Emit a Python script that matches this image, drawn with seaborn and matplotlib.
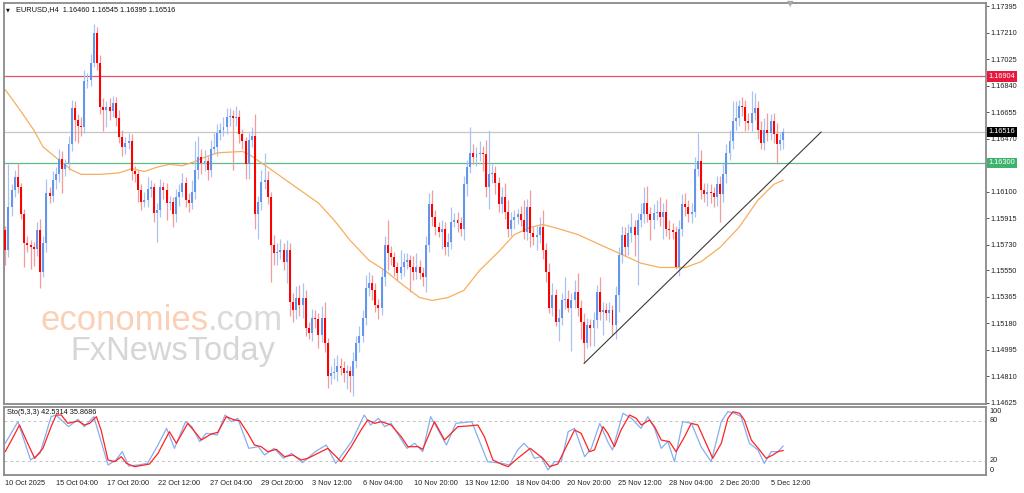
"""
plot.py
-------
EURUSD H4 candlestick chart with a moving average, a rising trendline,
horizontal levels and a Stochastic(5,3,3) panel underneath.
Saves out.png (1024x493).
"""

import numpy as np
import matplotlib
matplotlib.use("Agg")  # no display here
import matplotlib.pyplot as plt
import matplotlib.transforms as mtransforms
import seaborn as sns

# ---------------------------------------------------------------- data
# close of every H4 bar left to right
closes = [
    1.1569, 1.1599, 1.1611, 1.1620, 1.1613, 1.1594, 1.1574, 1.1573, 1.1571, 1.1570,
    1.1583, 1.1554, 1.1574, 1.1609, 1.1607, 1.1618, 1.1622, 1.1633, 1.1626, 1.1629,
    1.1643, 1.1668, 1.1660, 1.1656, 1.1655, 1.1687, 1.1688, 1.1700, 1.1721, 1.1700,
    1.1669, 1.1667, 1.1669, 1.1666, 1.1672, 1.1661, 1.1648, 1.1641, 1.1644, 1.1645,
    1.1624, 1.1622, 1.1611, 1.1603, 1.1604, 1.1612, 1.1613, 1.1595, 1.1597, 1.1613,
    1.1611, 1.1602, 1.1603, 1.1594, 1.1606, 1.1610, 1.1616, 1.1604, 1.1602, 1.1610,
    1.1625, 1.1634, 1.1630, 1.1631, 1.1625, 1.1640, 1.1641, 1.1651, 1.1653, 1.1655,
    1.1662, 1.1663, 1.1661, 1.1662, 1.1650, 1.1645, 1.1629, 1.1646, 1.1649, 1.1594,
    1.1603, 1.1617, 1.1618, 1.1606, 1.1573, 1.1567, 1.1568, 1.1569, 1.1561, 1.1569,
    1.1533, 1.1527, 1.1536, 1.1531, 1.1536, 1.1515, 1.1511, 1.1522, 1.1521, 1.1510,
    1.1522, 1.1504, 1.1481, 1.1483, 1.1484, 1.1488, 1.1487, 1.1483, 1.1485, 1.1481,
    1.1492, 1.1504, 1.1509, 1.1522, 1.1543, 1.1546, 1.1541, 1.1531, 1.1529, 1.1550,
    1.1573, 1.1567, 1.1564, 1.1557, 1.1553, 1.1557, 1.1561, 1.1562, 1.1557, 1.1554,
    1.1557, 1.1553, 1.1550, 1.1573, 1.1601, 1.1592, 1.1585, 1.1582, 1.1584, 1.1571,
    1.1575, 1.1589, 1.1590, 1.1588, 1.1584, 1.1615, 1.1627, 1.1637, 1.1634, 1.1636,
    1.1637, 1.1636, 1.1613, 1.1622, 1.1623, 1.1616, 1.1601, 1.1606, 1.1596, 1.1584,
    1.1590, 1.1592, 1.1594, 1.1590, 1.1582, 1.1599, 1.1581, 1.1578, 1.1580, 1.1585,
    1.1569, 1.1554, 1.1529, 1.1538, 1.1519, 1.1522, 1.1534, 1.1535, 1.1529, 1.1534,
    1.1540, 1.1529, 1.1519, 1.1504, 1.1517, 1.1515, 1.1520, 1.1540, 1.1526, 1.1527,
    1.1525, 1.1527, 1.1517, 1.1538, 1.1566, 1.1580, 1.1571, 1.1581, 1.1585, 1.1580,
    1.1590, 1.1594, 1.1602, 1.1594, 1.1590, 1.1595, 1.1596, 1.1592, 1.1596, 1.1584,
    1.1583, 1.1582, 1.1557, 1.1584, 1.1601, 1.1599, 1.1594, 1.1596, 1.1626, 1.1631,
    1.1611, 1.1608, 1.1610, 1.1609, 1.1606, 1.1615, 1.1608, 1.1622, 1.1637, 1.1645,
    1.1659, 1.1661, 1.1670, 1.1669, 1.1659, 1.1658, 1.1665, 1.1668, 1.1653, 1.1644,
    1.1653, 1.1651, 1.1659, 1.1650, 1.1643, 1.1646, 1.16516,
]
first_open = 1.1583

# wick lengths above / below the body, in pips
upper_wick_pips = [
    3, 30, 4, 5, 10, 3, 4, 5, 3, 4,
    6, 8, 5, 10, 4, 6, 5, 7, 5, 4,
    6, 6, 5, 4, 6, 8, 5, 6, 6, 4,
    5, 6, 4, 6, 5, 4, 6, 5, 4, 6,
    5, 4, 3, 4, 6, 8, 5, 3, 5, 6,
    4, 5, 4, 3, 6, 5, 7, 4, 5, 8,
    20, 15, 6, 8, 4, 6, 10, 6, 5, 7,
    6, 5, 4, 8, 5, 4, 3, 5, 6, 15,
    4, 8, 19, 6, 4, 7, 6, 8, 5, 7,
    5, 6, 8, 9, 10, 5, 4, 6, 5, 4,
    8, 11, 4, 5, 10, 8, 6, 5, 4, 3,
    6, 5, 7, 5, 9, 8, 6, 5, 4, 6,
    6, 17, 5, 4, 4, 12, 6, 5, 4, 8,
    10, 5, 4, 6, 8, 10, 5, 4, 6, 5,
    6, 10, 5, 6, 4, 6, 5, 18, 6, 5,
    8, 5, 10, 31, 6, 5, 4, 7, 10, 8,
    6, 5, 4, 6, 14, 6, 12, 5, 6, 7,
    12, 5, 6, 8, 4, 6, 5, 15, 6, 5,
    8, 13, 5, 6, 5, 4, 6, 5, 10, 6,
    5, 6, 4, 6, 5, 6, 5, 6, 10, 5,
    5, 8, 11, 12, 5, 6, 8, 10, 6, 9,
    6, 5, 4, 6, 7, 8, 5, 6, 8, 20,
    8, 5, 6, 5, 4, 6, 6, 7, 6, 8,
    14, 12, 4, 6, 5, 6, 15, 11, 5, 6,
    8, 12, 5, 6, 8, 5, 3,
]
lower_wick_pips = [
    10, 5, 6, 5, 4, 3, 17, 5, 15, 12,
    5, 11, 4, 6, 5, 4, 6, 5, 17, 5,
    4, 5, 15, 12, 6, 4, 5, 4, 3, 5,
    5, 15, 12, 6, 4, 5, 4, 6, 5, 4,
    6, 5, 8, 6, 4, 5, 6, 6, 20, 5,
    6, 12, 5, 9, 5, 6, 4, 5, 6, 4,
    5, 6, 8, 6, 7, 5, 4, 6, 5, 4,
    5, 6, 36, 5, 6, 5, 10, 10, 5, 10,
    17, 6, 5, 5, 26, 8, 8, 5, 6, 15,
    10, 8, 6, 8, 9, 6, 4, 5, 6, 9,
    5, 6, 8, 5, 4, 6, 5, 6, 11, 11,
    14, 5, 6, 4, 5, 6, 7, 5, 8, 5,
    6, 12, 5, 6, 5, 4, 6, 5, 17, 6,
    5, 4, 6, 10, 5, 6, 5, 4, 12, 5,
    6, 5, 4, 6, 5, 8, 8, 4, 5, 6,
    5, 12, 7, 15, 6, 8, 5, 6, 5, 6,
    5, 6, 5, 4, 5, 6, 10, 5, 9, 6,
    6, 7, 4, 6, 3, 13, 5, 6, 3, 30,
    5, 6, 12, 14, 3, 13, 13, 5, 6, 16,
    5, 6, 7, 10, 12, 6, 6, 5, 6, 15,
    35, 5, 6, 5, 14, 6, 5, 6, 15, 5,
    6, 5, 1, 6, 5, 6, 5, 6, 4, 5,
    6, 5, 8, 7, 7, 6, 19, 5, 6, 5,
    5, 6, 5, 6, 7, 5, 6, 5, 6, 4,
    5, 6, 5, 6, 14, 4, 6,
]

# moving average (orange), sampled along the bars
ma_bars = [0, 4, 9, 12, 17, 21, 24, 30, 36, 40, 44, 48, 52, 56, 60, 62, 67, 75, 77, 83,
           90, 99, 104, 109, 115, 120, 125, 131, 135, 140, 145, 150, 156, 161, 166, 170,
           175, 181, 187, 195, 201, 207, 215, 220, 226, 232, 238, 243, 246]
ma_prices = [1.1681, 1.1669, 1.1653, 1.1641, 1.1632, 1.1625, 1.1622, 1.1622, 1.1623, 1.1626,
             1.1624, 1.1627, 1.1629, 1.1628, 1.1631, 1.1633, 1.1637, 1.1638, 1.1636, 1.1627,
             1.1616, 1.1602, 1.1590, 1.1576, 1.1562, 1.1555, 1.1546, 1.1536, 1.1534, 1.1536,
             1.1541, 1.1555, 1.1568, 1.1580, 1.1585, 1.1587, 1.1584, 1.1580, 1.1574, 1.1566,
             1.1560, 1.1557, 1.1557, 1.1561, 1.1571, 1.1585, 1.1604, 1.1615, 1.1618]

# rising trendline from the 20 Nov low
trend_bars = [183, 258]
trend_prices = [1.1490, 1.16516]

# horizontal levels: resistance, current price, support
level_prices = [1.16904, 1.16516, 1.16300]
level_texts = ["1.16904", "1.16516", "1.16300"]

# stochastic %K (blue) and %D (red)
k_bars = [0, 4, 8, 11, 14.5, 16, 20, 23, 25, 28, 32.5, 35, 37, 39, 42, 45, 48, 51, 53.5, 57,
          59, 61.5, 63.5, 67, 69.5, 71.5, 73.5, 77, 80, 82, 85, 88, 90.5, 94, 98, 101.5,
          104.5, 109.5, 113.5, 115.5, 118, 120, 122, 127, 129.5, 132, 134.5, 139.5, 142.5,
          147.5, 152.5, 157, 159.4, 162, 164, 166, 167.3, 169.4, 171.6, 173.7, 175.8, 178,
          180, 183.2, 185.3, 188, 190.5, 192, 195.3, 198, 201, 203.2, 205.3, 207.4, 209.5,
          211.6, 214.2, 217, 220, 223.2, 226.4, 228.5, 230.6, 232.7, 235.3, 238, 240, 242.2,
          244.3, 246]
k_values = [46.5, 79, 21.5, 31.5, 86.5, 89, 71.5, 82.5, 71.5, 86.5, 14, 21.5, 34, 12.5, 14,
            16.5, 41.5, 69, 39, 79, 71.5, 49, 61.5, 59, 89, 79, 84, 39, 41.5, 29, 39, 24,
            31.5, 17.5, 34, 44, 16.5, 49, 89, 74, 84, 71.5, 76.5, 39, 46.5, 34, 86.5, 44,
            76.5, 79, 19, 16.5, 14, 36.5, 46.5, 36.5, 24, 26.5, 6.5, 19, 19, 64, 69, 26.5,
            39, 76.5, 49, 36.5, 91.5, 84, 69, 86.5, 69, 39, 49, 19, 79, 76.5, 41.5, 19, 79,
            94, 91.5, 86.5, 46.5, 36.5, 16.5, 34, 34, 42.53]
d_bars = [0, 2, 4.5, 6.6, 9.3, 11.9, 14.5, 16.1, 17.7, 19.8, 23, 25.1, 26.7, 28.8, 30.3, 32.5,
          34.6, 36.7, 38.3, 40.9, 44, 45.6, 48.3, 51.9, 54.1, 57.7, 59.9, 62, 65.1, 67.2,
          69.9, 72.5, 74.1, 76.7, 78.8, 80.9, 83, 85.7, 88.3, 90.9, 93.6, 95.7, 98.8, 102,
          104.1, 106.2, 109.4, 112.5, 114.6, 116.8, 118.9, 122, 125.2, 127.3, 130.5, 132,
          135.7, 138.9, 141, 143.1, 146.3, 149.4, 151.5, 154.2, 157, 159, 162, 166, 167.3,
          170, 172.1, 174.7, 177.4, 180, 182.1, 184.7, 186.3, 189, 190.5, 192.6, 194.7,
          197.4, 199.5, 201.1, 203.7, 205.3, 207.4, 210, 212.1, 214.8, 216.9, 219, 221.1,
          223.7, 226.4, 228.5, 230.1, 232.2, 233.7, 235.9, 238.5, 240.6, 242.7, 244.3, 246]
d_values = [34, 51.5, 74, 51.5, 24, 39, 71.5, 89, 89, 76.5, 80, 74, 76.5, 86.5, 66.5, 21.5,
            19, 26.5, 16.5, 11.5, 14, 15.5, 31.5, 64, 46.5, 76.5, 64, 51.5, 60.5, 63, 86.5,
            81.5, 80.5, 61.5, 44, 41.5, 34, 37.5, 26.5, 29, 21.5, 24, 31.5, 39, 29, 19, 41.5,
            66.5, 81.5, 76.5, 79, 74, 56.5, 41.5, 41.5, 37.5, 79, 51.5, 61.5, 71.5, 72.5, 74,
            56.5, 21.5, 15, 11.5, 24, 39, 34, 24, 11.5, 15.5, 41.5, 66.5, 61.5, 34, 36.5,
            71.5, 61.5, 41.5, 66.5, 89, 84, 74, 81.5, 71.5, 51.5, 49, 34, 56.5, 76.5, 74,
            51.5, 24, 46.5, 84, 94, 91.5, 81.5, 51.5, 36.5, 24, 29, 34, 35.87]

# 1.16285 sits under the green support label, so its text is hidden
price_ticks = [1.17395, 1.17210, 1.17025, 1.16840, 1.16655, 1.16470, 1.16285, 1.16100,
               1.15915, 1.15730, 1.15550, 1.15365, 1.15180, 1.14995, 1.14810, 1.14625]
hidden_tick = 1.16285
date_labels = ["10 Oct 2025", "15 Oct 04:00", "17 Oct 20:00", "22 Oct 12:00",
               "27 Oct 04:00", "29 Oct 20:00", "3 Nov 12:00", "6 Nov 04:00",
               "10 Nov 20:00", "13 Nov 12:00", "18 Nov 04:00", "20 Nov 20:00",
               "25 Nov 12:00", "28 Nov 04:00", "2 Dec 20:00", "5 Dec 12:00"]

title_text = "EURUSD,H4  1.16460 1.16545 1.16395 1.16516"
stoch_text = "Sto(5,3,3) 42.5314 35.8686"

# ---------------------------------------------------------------- style
BULL, BULL_WICK = "#6495ED", "#A9C3F3"
BEAR, BEAR_WICK = "#FF0000", "#F59A9A"
FRAME = "#8A8A8A"
LEVEL_COLORS = ["#E2536A", "#C6C6C6", "#5CBD84"]
LABEL_BOXES = ["#E8173C", "#000000", "#3DB36E"]
FS = 5.3

sns.set_theme(style="white")
plt.rcParams["font.family"] = ["Liberation Sans", "DejaVu Sans"]

fig = plt.figure(figsize=(10.24, 4.93), dpi=100)
ax = fig.add_axes([4 / 1024, 1 - 404 / 493, 982 / 1024, 401 / 493])
ax2 = fig.add_axes([4 / 1024, 1 - 475 / 493, 982 / 1024, 68 / 493], sharex=ax)

# ---------------------------------------------------------------- candles
n = min(len(closes), len(upper_wick_pips), len(lower_wick_pips))
c = np.array(closes[:n])
o = np.concatenate([[first_open], c[:-1]])
hi = np.maximum(o, c) + np.array(upper_wick_pips[:n]) * 1e-4
lo = np.minimum(o, c) - np.array(lower_wick_pips[:n]) * 1e-4
bull = c >= o
x = np.arange(n)

ax.vlines(x[bull], lo[bull], hi[bull], color=BULL_WICK, lw=0.9, zorder=2)
ax.vlines(x[~bull], lo[~bull], hi[~bull], color=BEAR_WICK, lw=0.9, zorder=2)
body = np.maximum(np.abs(c - o), 0.00004)
ax.bar(x, body, bottom=np.minimum(o, c), width=0.62,
       color=np.where(bull, BULL, BEAR), linewidth=0, zorder=3)

sns.lineplot(x=ma_bars, y=ma_prices, ax=ax, color="#F7AE5E", lw=0.9,
             sort=False, estimator=None, zorder=2.5)
sns.lineplot(x=trend_bars, y=trend_prices, ax=ax, color="#3A3A3A", lw=0.8,
             sort=False, estimator=None, zorder=4)

blend = mtransforms.blended_transform_factory(ax.transAxes, ax.transData)
for price, txt, lc, bc in zip(level_prices, level_texts, LEVEL_COLORS, LABEL_BOXES):
    ax.axhline(price, color=lc, lw=0.9, zorder=1.5)
    ax.text(1.0025, price, txt, transform=blend, fontsize=FS, color="white",
            va="center", ha="left", clip_on=False, zorder=6,
            bbox=dict(boxstyle="square,pad=0.25", fc=bc, ec="none"))

# watermark behind the candles: orange "economies", grey ".com", grey "FxNewsToday"
wm = ax.text(0.0367, 0.1845, "economies", transform=ax.transAxes, fontsize=25,
             color="#FAD0B6", va="baseline", ha="left", zorder=0.5)
ax.annotate(".com", xy=(1, 0), xycoords=wm, fontsize=25, color="#DADADA",
            va="bottom", ha="left", zorder=0.5, annotation_clip=False)
ax.text(0.0672, 0.1097, "FxNewsToday", transform=ax.transAxes, fontsize=23.5,
        color="#D6D6D6", va="baseline", ha="left", zorder=0.5)

ax.text(0.0122, 0.9825, title_text, transform=ax.transAxes, fontsize=FS,
        color="#111111", va="center", ha="left")
ax.text(0.0025, 0.9825, "\u25bc", transform=ax.transAxes, fontsize=3.6,
        color="#111111", va="center", ha="left", family="DejaVu Sans")
fig.text(790 / 1024, 1 - 4 / 493, "\u25bc", fontsize=6, color="#A8A8A8",
         ha="center", va="center", family="DejaVu Sans")

ax.set_ylim(1.14617, 1.17416)
ax.set_xlim(-0.4, -0.4 + 982 / 3.1626)
ax.yaxis.tick_right()
ax.set_yticks(price_ticks)
ax.set_yticklabels(["" if p == hidden_tick else f"{p:.5f}" for p in price_ticks],
                   fontsize=FS, color="#222222")
ax.tick_params(axis="y", direction="out", length=2.2, width=0.7, color="#555555", pad=1.2)
ax.tick_params(axis="x", bottom=False, labelbottom=False)
ax.set_xlabel("")
ax.set_ylabel("")

# ---------------------------------------------------------------- stochastic
for lvl in (80, 20):
    ax2.axhline(lvl, color="#C4C4C4", lw=0.7, ls=(0, (3, 3)), zorder=1)
sns.lineplot(x=k_bars, y=k_values, ax=ax2, color="#86AEF0", lw=0.9,
             sort=False, estimator=None, zorder=2)
sns.lineplot(x=d_bars, y=d_values, ax=ax2, color="#FF2222", lw=0.9,
             sort=False, estimator=None, zorder=3)
ax2.text(0.003, 0.912, stoch_text, transform=ax2.transAxes, fontsize=FS,
         color="#111111", va="center", ha="left")

ax2.set_ylim(-1, 101)
ax2.yaxis.tick_right()
ax2.set_yticks([100, 80, 20, 0])
ax2.set_yticklabels(["100", "80", "20", "0"], fontsize=FS, color="#222222")
for lbl, va in zip(ax2.get_yticklabels(), ["top", "center", "center", "bottom"]):
    lbl.set_va(va)
ax2.tick_params(axis="y", length=0, pad=2.5)

date_ticks = np.arange(len(date_labels)) * 16.15
ax2.set_xticks(date_ticks)
ax2.set_xticklabels(date_labels, fontsize=FS, color="#222222")
for lbl in ax2.get_xticklabels():
    lbl.set_ha("left")
ax2.tick_params(axis="x", direction="out", length=2.2, width=0.7, color="#555555", pad=1.5)
ax2.set_xlabel("")
ax2.set_ylabel("")

for a in (ax, ax2):
    a.set_facecolor("white")
    for sp in a.spines.values():
        sp.set_color(FRAME)
        sp.set_linewidth(1.3)
        sp.set_visible(True)

fig.savefig("out.png", dpi=100, facecolor="white")
